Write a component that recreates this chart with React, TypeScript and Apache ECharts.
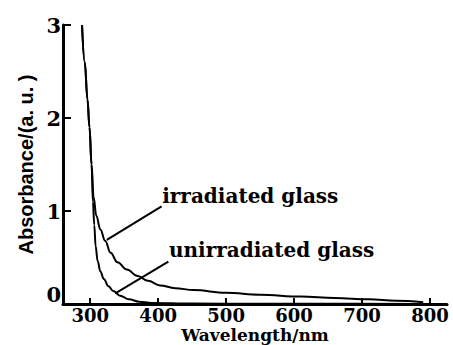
import React, { useEffect, useRef } from "react";
import * as echarts from "echarts";

const xTicks = [300, 400, 500, 600, 700, 800];
const irradiated: [number, number][] = [
  [288, 3.0], [292, 2.6], [296, 2.2], [299, 1.9], [302, 1.5], [305, 1.15], [309, 0.95],
  [315, 0.8], [322, 0.68], [330, 0.55], [340, 0.45], [354, 0.37], [370, 0.3], [385, 0.25],
  [403, 0.2], [425, 0.17], [452, 0.15], [500, 0.12], [550, 0.1], [610, 0.08], [660, 0.065],
  [710, 0.05], [750, 0.035], [790, 0.02],
];
const unirradiated: [number, number][] = [
  [288, 3.0], [292, 2.6], [296, 2.2], [299, 1.9], [302, 1.5], [304, 1.1], [306, 0.85],
  [308, 0.62], [311, 0.46], [315, 0.35], [320, 0.27], [327, 0.19], [334, 0.14], [344, 0.09],
  [357, 0.05], [372, 0.025], [390, 0.012], [450, 0.005], [550, 0.003], [650, 0.002], [790, 0.0],
];
const irrLeader: [number, number][] = [[324.5, 0.69], [405, 1.05]];
const unirrLeader: [number, number][] = [[337, 0.115], [415, 0.455]];
const irrLabelAt: [number, number] = [406, 1.16];
const unirrLabelAt: [number, number] = [416, 0.58];

export default function App() {
  const ref = useRef<HTMLDivElement>(null);
  useEffect(() => {
    const chart = echarts.init(ref.current!, null, { renderer: "svg" });
    const labelFont = {
      fontFamily: "DejaVu Serif",
      fontWeight: "bold" as const,
      fontSize: 20,
      color: "#000",
    };
    chart.setOption({
      animation: false,
      backgroundColor: "#fff",
      grid: { left: 63, top: 25, right: 6, bottom: 41, containLabel: false, outerBoundsMode: "none" },
      xAxis: {
        type: "value",
        min: 260,
        max: 825,
        name: "Wavelength/nm",
        nameLocation: "middle",
        nameGap: 21,
        nameMoveOverlap: false,
        nameTextStyle: {
          fontFamily: "DejaVu Serif",
          fontWeight: "bold",
          fontSize: 17,
          lineHeight: 20,
          color: "#000",
        },
        axisLine: { lineStyle: { color: "#000", width: 3 } },
        axisTick: {
          show: true,
          inside: true,
          length: 6,
          customValues: xTicks,
          lineStyle: { color: "#000", width: 2 },
        },
        axisLabel: {
          customValues: xTicks,
          margin: 1,
          fontFamily: "DejaVu Serif",
          fontWeight: "bold",
          fontSize: 18,
          lineHeight: 20,
          color: "#000",
        },
        splitLine: { show: false },
      },
      yAxis: {
        type: "value",
        min: 0,
        max: 3,
        interval: 1,
        name: "Absorbance/(a. u. )",
        nameLocation: "middle",
        nameGap: 27,
        nameMoveOverlap: false,
        nameTextStyle: {
          fontFamily: "Liberation Sans",
          fontWeight: "bold",
          fontSize: 20,
          color: "#000",
        },
        axisLine: { show: true, lineStyle: { color: "#000", width: 3 } },
        axisTick: { show: true, inside: true, length: 8, lineStyle: { color: "#000", width: 2 } },
        axisLabel: {
          margin: 2,
          fontFamily: "DejaVu Serif",
          fontWeight: "bold",
          fontSize: 21,
          color: "#000",
          formatter: (v: number) => (v === 0 ? "{z|0}" : String(v)),
          rich: {
            z: {
              fontFamily: "DejaVu Serif",
              fontWeight: "bold",
              fontSize: 21,
              color: "#000",
              padding: [0, 0, 20, 0],
            },
          },
        },
        splitLine: { show: false },
      },
      series: [
        {
          name: "irradiated glass",
          type: "line",
          data: irradiated,
          smooth: 0.4,
          smoothMonotone: "x",
          symbol: "none",
          lineStyle: { color: "#000", width: 2 },
          markLine: {
            silent: true,
            symbol: "none",
            label: { show: false },
            lineStyle: { color: "#000", width: 2, type: "solid" },
            data: [[{ coord: irrLeader[0] }, { coord: irrLeader[1] }]],
          },
          markPoint: {
            symbol: "circle",
            symbolSize: 0,
            label: {
              show: true,
              position: "right",
              distance: 0,
              formatter: "irradiated glass",
              ...labelFont,
            },
            data: [{ coord: irrLabelAt }],
          },
        },
        {
          name: "unirradiated glass",
          type: "line",
          data: unirradiated,
          smooth: 0.4,
          smoothMonotone: "x",
          symbol: "none",
          lineStyle: { color: "#000", width: 2 },
          markLine: {
            silent: true,
            symbol: "none",
            label: { show: false },
            lineStyle: { color: "#000", width: 2, type: "solid" },
            data: [[{ coord: unirrLeader[0] }, { coord: unirrLeader[1] }]],
          },
          markPoint: {
            symbol: "circle",
            symbolSize: 0,
            label: {
              show: true,
              position: "right",
              distance: 0,
              formatter: "unirradiated glass",
              ...labelFont,
            },
            data: [{ coord: unirrLabelAt }],
          },
        },
      ],
    });
    return () => chart.dispose();
  }, []);
  return <div ref={ref} style={{ width: 453, height: 345, position: "fixed", left: 0, top: 0 }} />;
}
